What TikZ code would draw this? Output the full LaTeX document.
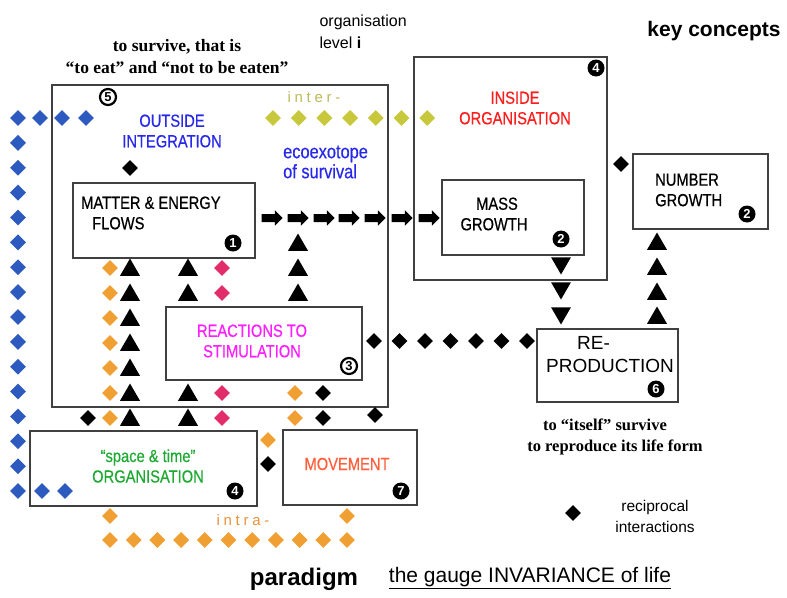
\documentclass[tikz,border=0pt]{standalone}
\usepackage{fontspec}
\setmainfont{Liberation Serif}
\setsansfont{Liberation Sans}
\newfontfamily\narrowsf[FakeStretch=0.84,FakeBold=0.5]{Liberation Sans}
\newfontfamily\spacedsf[LetterSpace=25]{Liberation Sans}
\usetikzlibrary{shapes.geometric,shapes.arrows}

\definecolor{dblue}{RGB}{45,90,190}
\definecolor{tblue}{RGB}{40,40,235}
\definecolor{interdot}{RGB}{200,200,60}
\definecolor{tinter}{RGB}{190,185,90}
\definecolor{intradot}{RGB}{240,160,50}
\definecolor{tintra}{RGB}{232,145,60}
\definecolor{crimsondot}{RGB}{225,45,105}
\definecolor{tred}{RGB}{255,30,30}
\definecolor{tmag}{RGB}{255,30,255}
\definecolor{tgreen}{RGB}{30,170,50}
\definecolor{tmove}{RGB}{255,95,60}

\tikzset{
  box/.style={draw=black!75,line width=1.3pt,inner sep=0},
  boxtext/.style={font=\narrowsf\fontsize{17.5}{20.5}\selectfont,align=center,inner sep=0},
  numdot/.style={circle,fill=black,text=white,inner sep=0,minimum size=17pt,
    font=\sffamily\bfseries\fontsize{13}{13}\selectfont},
  numring/.style={circle,draw=black,line width=2.2pt,fill=white,inner sep=0,minimum size=16pt,
    font=\sffamily\bfseries\fontsize{13}{13}\selectfont},
  dmd/.style={diamond,inner sep=0,minimum width=16pt,minimum height=16pt},
  uptri/.style={regular polygon,regular polygon sides=3,fill=black,inner sep=0,minimum size=23pt},
  downtri/.style={uptri,shape border rotate=180},
  flowarrow/.style={single arrow,fill=black,inner xsep=0pt,inner ysep=3.8pt,minimum height=21pt,
    single arrow head extend=3.6pt,single arrow head indent=0pt}
}

\begin{document}
\begin{tikzpicture}[x=1pt,y=-1pt]
      \useasboundingbox (0,0) rectangle (787,597);

      \node[box,minimum width=336pt,minimum height=322pt] (outside) at (220,246) {};
      \node[box,minimum width=182pt,minimum height=75pt] (flows) at (164,220.5) {};
      \node[box,minimum width=196pt,minimum height=73pt] (stimul) at (264,343.5) {};
      \node[box,minimum width=193pt,minimum height=223pt] (inside) at (510.5,168.5) {};
      \node[box,minimum width=142pt,minimum height=75pt] (mass) at (513,217.5) {};
      \node[box,minimum width=135pt,minimum height=75pt] (number) at (700.5,191.5) {};
      \node[box,minimum width=141pt,minimum height=73pt] (reprod) at (607.5,365.5) {};
      \node[box,minimum width=227pt,minimum height=75pt] (spacetime) at (143.5,468.5) {};
      \node[box,minimum width=134pt,minimum height=75pt] (movement) at (350,467.5) {};

      \node[font=\bfseries\fontsize{17.5}{22}\selectfont,align=center] (survive) at (177,57)
        {to survive, that is\\“to eat” and “not to be eaten”};
      \node[font=\sffamily\fontsize{16}{22}\selectfont,align=left,anchor=west] (level) at (316,32)
        {organisation\\level \textbf{i}};
      \node[font=\sffamily\bfseries\fontsize{21}{24}\selectfont] (keyc) at (714,31) {key concepts};

      \node[boxtext,text=tblue] (outsidet) at (172,131) {OUTSIDE\\INTEGRATION};
      \node[font=\spacedsf\fontsize{15}{15}\selectfont,text=tinter] (inter) at (314,97) {inter-};
      \node[boxtext,text=tblue,font=\narrowsf\fontsize{19.5}{20}\selectfont,align=left,anchor=west] (ecoexo) at (283,162)
        {ecoexotope\\of survival};
      \node[boxtext,align=left,anchor=west] (flowst) at (81,213) {MATTER \& ENERGY\\\hspace{11pt}FLOWS};
      \node[boxtext,text=tred] (insidet) at (515,108) {INSIDE\\ORGANISATION};
      \node[boxtext] (masst) at (494,214) {\hspace{6pt}MASS\\GROWTH};
      \node[boxtext,align=left,anchor=west] (numbert) at (655,190) {NUMBER\\GROWTH};
      \node[boxtext,text=tmag] (stimult) at (252,341) {REACTIONS TO\\STIMULATION};
      \node[boxtext,font=\sffamily\fontsize{19}{23}\selectfont,align=left,anchor=west] (reprodt) at (546,355)
        {\hspace{31pt}RE-\\PRODUCTION};
      \node[boxtext,text=tgreen] (spacetimet) at (148,466) {“space \& time”\\ORGANISATION};
      \node[boxtext,text=tmove] (movementt) at (347,464) {MOVEMENT};
      \node[font=\spacedsf\fontsize{15}{15}\selectfont,text=tintra] (intra) at (243,520) {intra-};

      \node[font=\bfseries\fontsize{16.5}{21}\selectfont,align=center] (itself) at (605,437)
        {to “itself” survive\\\hspace{20pt}to reproduce its life form};
      \node[font=\sffamily\fontsize{15.5}{21}\selectfont,align=center] (recip) at (655,516)
        {reciprocal\\interactions};
      \node[font=\sffamily\bfseries\fontsize{24}{26}\selectfont] (paradigm) at (304,579) {paradigm};
      \node[font=\sffamily\fontsize{21}{24}\selectfont] (gauge) at (530,578)
        {\underline{the gauge INVARIANCE of life}};

      \node[numring] (n5) at (108,97) {5};
      \node[numdot] (n4a) at (596,68) {4};
      \node[numdot] (n1) at (233,243) {1};
      \node[numdot] (n2a) at (561,239) {2};
      \node[numdot] (n2b) at (747,214) {2};
      \node[numring] (n3) at (349,366) {3};
      \node[numdot] (n6) at (656,389) {6};
      \node[numdot] (n4b) at (235,491) {4};
      \node[numdot] (n7) at (401,491) {7};

      \begin{scope}[every node/.style={dmd,fill=dblue}]
        \foreach \i in {0,...,15}
          \node (bl\i) at (18,118+24.87*\i) {};
        \foreach \x in {40,62,86}
          \node (bt\x) at (\x,118) {};
        \foreach \x in {42,65}
          \node (bb\x) at (\x,491) {};
      \end{scope}

      \begin{scope}[every node/.style={dmd,fill=interdot}]
        \foreach \i in {0,...,6}
          \node (it\i) at (273+25.7*\i,118) {};
      \end{scope}

      \begin{scope}[every node/.style={dmd,fill=intradot}]
        \foreach \i in {0,...,6}
          \node (io\i) at (110,268+25*\i) {};
        \foreach \y in {393,418}
          \node (ir\y) at (295,\y) {};
        \node (im1) at (268,440) {};
        \node (ib1) at (110,516) {};
        \node (ib2) at (347,516) {};
        \foreach \i in {0,...,10}
          \node (ir\i) at (110+23.7*\i,540) {};
      \end{scope}

      \begin{scope}[every node/.style={dmd,fill=crimsondot}]
        \foreach \y in {268,293,393,418}
          \node (cr\y) at (222,\y) {};
      \end{scope}

      \begin{scope}[every node/.style={dmd,fill=black}]
        \node (k1) at (130,168) {};
        \node (k2) at (621,164) {};
        \node (k3) at (88,418) {};
        \node (k4) at (375,415) {};
        \node (k5) at (268,464) {};
        \node (k6) at (573,513) {};
        \foreach \y in {393,418}
          \node (kc\y) at (323,\y) {};
        \foreach \i in {0,...,6}
          \node (kr\i) at (374+25.5*\i,341) {};
      \end{scope}

      \begin{scope}[every node/.style={uptri}]
        \foreach \y in {243,268,293}
          \node (ta\y) at (298,\y+2) {};
        \foreach \i in {0,...,6}
          \node (tb\i) at (130,268+25*\i+2) {};
        \foreach \y in {268,293,393,418}
          \node (tc\y) at (188,\y+2) {};
        \foreach \y in {242,267,292,316}
          \node (td\y) at (657,\y+2) {};
      \end{scope}

      \begin{scope}[every node/.style={downtri}]
        \foreach \y in {265,290,315}
          \node (te\y) at (561,\y-2) {};
      \end{scope}

      \begin{scope}[every node/.style={flowarrow}]
        \foreach \x in {270,296,322,347,373,400,427}
          \node (fa\x) at (\x,218) {};
      \end{scope}

    \end{tikzpicture}
\end{document}
